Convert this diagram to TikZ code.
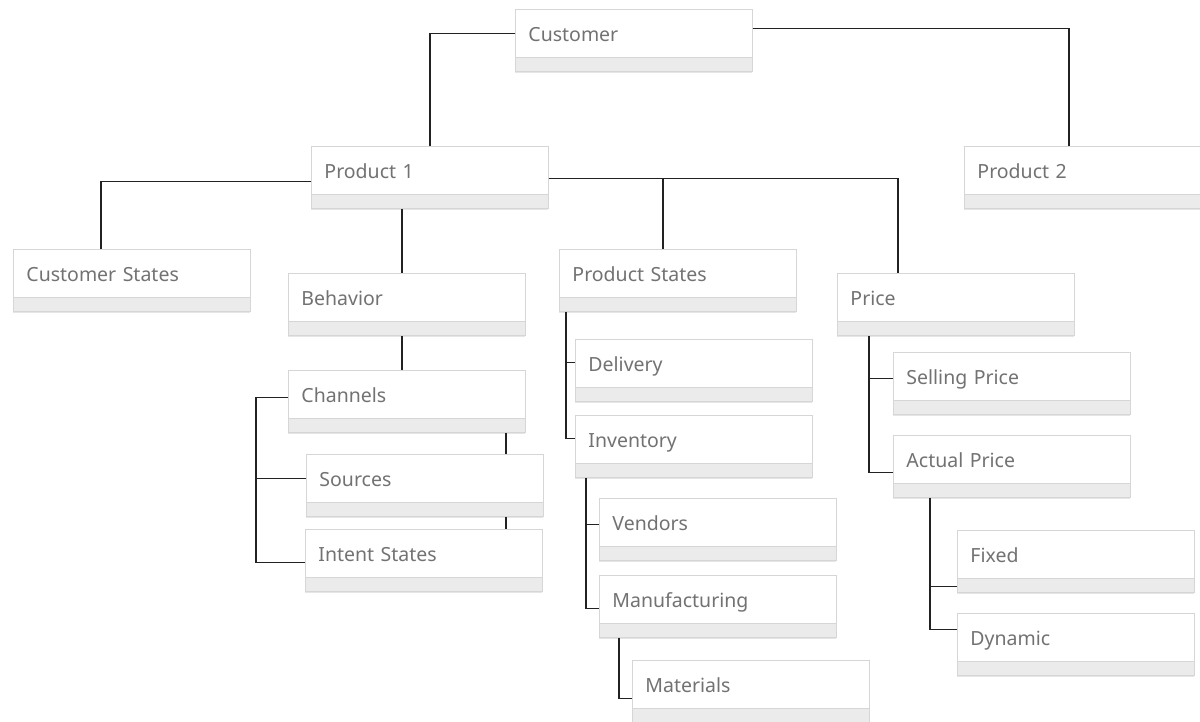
\documentclass[tikz,border=0pt]{standalone}
\usepackage{fontspec}
\setmainfont{Noto Sans}
\usetikzlibrary{shadows}
\definecolor{txtc}{HTML}{727272}
\definecolor{borderc}{HTML}{D6D6D6}
\definecolor{stripc}{HTML}{EBEBEB}
\definecolor{linec}{HTML}{222222}
\tikzset{
  card/.style={rectangle, draw=borderc, fill=white, line width=0.9pt,
    anchor=north west, minimum width=237pt, minimum height=62pt,
    inner xsep=13pt, inner ysep=0pt, text width=211pt, align=left,
    text height=32pt, text depth=30pt, text=txtc,
    font=\fontsize{19.5}{24}\selectfont,
    drop shadow={shadow xshift=0pt, shadow yshift=-2pt, opacity=0.10, fill=black},
    path picture={
      \fill[stripc] (path picture bounding box.south west) rectangle ([yshift=14pt]path picture bounding box.south east);
      \draw[borderc, line width=1pt] ([yshift=14pt]path picture bounding box.south west) -- ([yshift=14pt]path picture bounding box.south east);
    }},
  conn/.style={draw=linec, line width=1.3pt}
}
\begin{document}
\begin{tikzpicture}[x=1pt, y=-1pt]
\useasboundingbox (0,0) rectangle (1200,721);
% boxes
\node[card] (cust) at (515,9) {Customer};
\node[card] (p1) at (311,146) {Product 1};
\node[card] (p2) at (964,146) {Product 2};
\node[card] (cs) at (13,249) {Customer States};
\node[card] (beh) at (288,273) {Behavior};
\node[card] (ps) at (559,249) {Product States};
\node[card] (price) at (837,273) {Price};
\node[card] (ch) at (288,370) {Channels};
\node[card] (src) at (306,454) {Sources};
\node[card] (int) at (305,529) {Intent States};
\node[card] (del) at (575,339) {Delivery};
\node[card] (inv) at (575,415) {Inventory};
\node[card] (ven) at (599,498) {Vendors};
\node[card] (man) at (599,575) {Manufacturing};
\node[card] (mat) at (632,660) {Materials};
\node[card] (sp) at (893,352) {Selling Price};
\node[card] (ap) at (893,435) {Actual Price};
\node[card] (fx) at (957,530) {Fixed};
\node[card] (dy) at (957,613) {Dynamic};
% connectors
\draw[conn] ([yshift=7pt]cust.west) -| (p1.north);
\draw[conn] ([yshift=12pt]cust.east) -| ([xshift=105pt]p2.north west);
\draw[conn] ([yshift=-4pt]p1.west) -| ([xshift=88pt]cs.north west);
\draw[conn] ([xshift=91pt]p1.south west) -- ([xshift=114pt]beh.north west);
\draw[conn] ([yshift=-1pt]p1.east) -| ([xshift=61pt]price.north west);
\draw[conn] ([xshift=104pt]ps.north west) |- ([yshift=-1pt]p1.east);
% product states
\coordinate (psx) at ([xshift=7pt]ps.south west);
\draw[conn] (psx) |- ([yshift=8pt]del.west);
\draw[conn] (psx) |- ([yshift=8pt]inv.west);
% behavior
\draw[conn] ([xshift=114pt]beh.south west) -- ([xshift=114pt]ch.north west);
\coordinate (chx) at ([xshift=-32pt,yshift=4pt]ch.west);
\draw[conn] ([yshift=4pt]ch.west) -- (chx) |- ([yshift=-2pt]int.west);
\draw[conn] (chx) |- ([yshift=7pt]src.west);
\draw[conn] ([xshift=218pt]ch.south west) -- ([xshift=200pt]src.north west);
\draw[conn] ([xshift=200pt]src.south west) -- ([xshift=201pt]int.north west);
% inventory
\coordinate (invx) at ([xshift=11pt]inv.south west);
\draw[conn] (invx) |- ([yshift=5pt]ven.west);
\draw[conn] (invx) |- ([yshift=-2pt]man.west);
\draw[conn] ([xshift=20pt]man.south west) |- ([yshift=-7pt]mat.west);
% price
\coordinate (prx) at ([xshift=32pt]price.south west);
\draw[conn] (prx) |- ([yshift=5pt]sp.west);
\draw[conn] (prx) |- ([yshift=-6pt]ap.west);
\coordinate (apx) at ([xshift=37pt]ap.south west);
\draw[conn] (apx) |- ([yshift=-25pt]fx.west);
\draw[conn] (apx) |- ([yshift=15pt]dy.west);
\end{tikzpicture}
\end{document}
